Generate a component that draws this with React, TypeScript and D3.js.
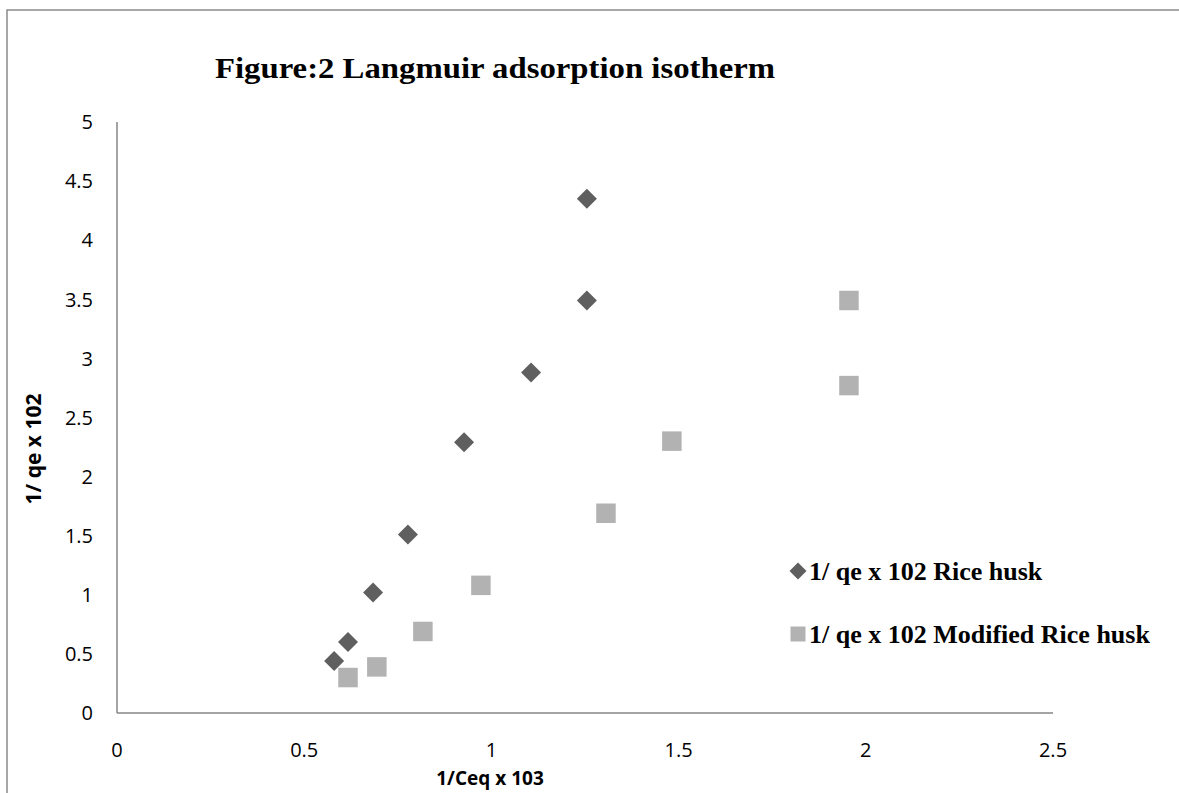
import React, { useEffect, useRef } from "react";
import * as d3 from "d3";

// 1/Ceq x 103 vs 1/ qe x 102
const riceHuskX = [0.58, 0.617, 0.684, 0.777, 0.927, 1.106, 1.255, 1.255];
const riceHuskY = [0.44, 0.6, 1.02, 1.51, 2.29, 2.88, 3.49, 4.35];

const modifiedX = [0.617, 0.694, 0.817, 0.972, 1.306, 1.482, 1.955, 1.955];
const modifiedY = [0.3, 0.39, 0.69, 1.08, 1.69, 2.3, 2.77, 3.49];

const xTicks = [0, 0.5, 1, 1.5, 2, 2.5];
const yTicks = [0, 0.5, 1, 1.5, 2, 2.5, 3, 3.5, 4, 4.5, 5];

const seriesNames = ["1/ qe x 102 Rice husk", "1/ qe x 102 Modified Rice husk"];
const titleText = "Figure:2 Langmuir adsorption isotherm";
const xTitle = "1/Ceq x 103";
const yTitle = "1/ qe x 102";

export default function App() {
  const ref = useRef<SVGSVGElement>(null);

  useEffect(() => {
    const width = 1179;
    const height = 793;
    const svg = d3.select(ref.current);
    svg.selectAll("*").remove();

    const x = d3.scaleLinear().domain([0, 2.5]).range([117, 1053]);
    const y = d3.scaleLinear().domain([0, 5]).range([713, 122]);

    svg.append("rect").attr("width", width).attr("height", height).attr("fill", "white");

    // outer frame (right and bottom run off the picture)
    svg
      .append("rect")
      .attr("x", 7)
      .attr("y", 10)
      .attr("width", 1400)
      .attr("height", 1000)
      .attr("fill", "none")
      .attr("stroke", "#8a8a8a")
      .attr("stroke-width", 1.5);

    const serif = "'Liberation Serif', 'Times New Roman', serif";
    const sans = "'Open Sans', 'Noto Sans', sans-serif";

    svg
      .append("text")
      .attr("x", 215)
      .attr("y", 78)
      .attr("font-family", serif)
      .attr("font-weight", "bold")
      .attr("font-size", 30)
      .attr("textLength", 560)
      .attr("lengthAdjust", "spacingAndGlyphs")
      .attr("fill", "#000")
      .text(titleText);

    // axes
    const axisColor = "#868686";
    svg
      .append("line")
      .attr("x1", x(0))
      .attr("x2", x(2.5))
      .attr("y1", y(0))
      .attr("y2", y(0))
      .attr("stroke", axisColor)
      .attr("stroke-width", 1.5);
    svg
      .append("line")
      .attr("x1", x(0))
      .attr("x2", x(0))
      .attr("y1", y(0))
      .attr("y2", y(5))
      .attr("stroke", axisColor)
      .attr("stroke-width", 1.5);

    svg
      .append("g")
      .selectAll("text")
      .data(xTicks)
      .join("text")
      .attr("x", (d) => x(d))
      .attr("y", 757)
      .attr("text-anchor", "middle")
      .attr("font-family", sans)
      .attr("font-size", 20)
      .attr("fill", "#000")
      .text((d) => String(d));

    svg
      .append("g")
      .selectAll("text")
      .data(yTicks)
      .join("text")
      .attr("x", 93)
      .attr("y", (d) => y(d))
      .attr("dy", "0.36em")
      .attr("text-anchor", "end")
      .attr("font-family", sans)
      .attr("font-size", 20)
      .attr("fill", "#000")
      .text((d) => String(d));

    svg
      .append("text")
      .attr("x", 490)
      .attr("y", 785)
      .attr("text-anchor", "middle")
      .attr("font-family", sans)
      .attr("font-weight", "bold")
      .attr("font-size", 19)
      .attr("fill", "#000")
      .text(xTitle);

    svg
      .append("text")
      .attr("transform", "translate(41,449) rotate(-90)")
      .attr("text-anchor", "middle")
      .attr("font-family", sans)
      .attr("font-weight", "bold")
      .attr("font-size", 21)
      .attr("fill", "#000")
      .text(yTitle);

    const diamondColor = "#5f5f5f";
    const squareColor = "#b2b2b2";

    const diamond = d3.symbol().type(d3.symbolSquare).size(200);
    const square = d3.symbol().type(d3.symbolSquare).size(380);

    const riceData = riceHuskX.map((v, i) => [v, riceHuskY[i]]);
    const modData = modifiedX.map((v, i) => [v, modifiedY[i]]);

    svg
      .append("g")
      .selectAll("path")
      .data(modData)
      .join("path")
      .attr("d", square)
      .attr("transform", (d) => `translate(${x(d[0])},${y(d[1])})`)
      .attr("fill", squareColor);

    svg
      .append("g")
      .selectAll("path")
      .data(riceData)
      .join("path")
      .attr("d", diamond)
      .attr("transform", (d) => `translate(${x(d[0])},${y(d[1])}) rotate(45)`)
      .attr("fill", diamondColor);

    // legend
    const legend = svg.append("g");
    legend
      .append("path")
      .attr("d", d3.symbol().type(d3.symbolSquare).size(144)())
      .attr("transform", "translate(798,571) rotate(45)")
      .attr("fill", diamondColor);
    legend
      .append("path")
      .attr("d", d3.symbol().type(d3.symbolSquare).size(225)())
      .attr("transform", "translate(798,634)")
      .attr("fill", squareColor);

    legend
      .selectAll("text")
      .data(seriesNames)
      .join("text")
      .attr("x", 809)
      .attr("y", (d, i) => 580 + i * 63)
      .attr("font-family", serif)
      .attr("font-weight", "bold")
      .attr("font-size", 26)
      .attr("fill", "#000")
      .text((d) => d);
  }, []);

  return (
    <svg
      ref={ref}
      width={1179}
      height={793}
      style={{ position: "absolute", left: 0, top: 0, display: "block" }}
    />
  );
}
